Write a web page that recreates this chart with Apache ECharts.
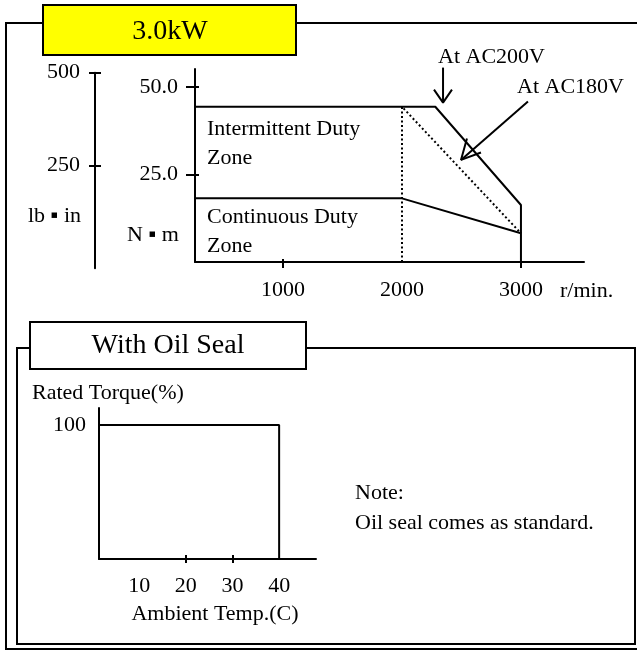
<!DOCTYPE html>
<html>
<head>
<meta charset="utf-8">
<script src="https://cdn.jsdelivr.net/npm/echarts@6/dist/echarts.min.js"></script>
<style>html,body{margin:0;padding:0;background:#fff}#c{width:637px;height:652px}</style>
</head>
<body>
<div id="c"></div>
<script>
// ---- tick labels ----
const rpmLabels = [1000, 2000, 3000];
const rpmTickMarks = [1000, 3000];
const nmLabels = [25, 50];
const lbLabels = [250, 500];
const tempLabels = [10, 20, 30, 40];
const tempTickMarks = [20, 30];
const pctLabels = [100];

// ---- torque-speed curves (r/min, N·m) ----
const intermittentRpm = [0, 2280, 3000, 3000];
const intermittentNm = [44.4, 44.4, 16.3, 0];
const continuousRpm = [0, 2000, 3000];
const continuousNm = [18.2, 18.2, 8.2];
const ac180Rpm = [2000, 2000, 3000];
const ac180Nm = [0, 44.4, 8.2];

// ---- annotation arrows (r/min, N·m) ----
const arrow200Rpm = [2345, 2345];
const arrow200Nm = [55.6, 45.6];
const arrow200HeadRpm = [2269, 2345, 2420];
const arrow200HeadNm = [49.3, 45.6, 49.3];
const arrow180Rpm = [3059, 2496];
const arrow180Nm = [45.9, 29.2];
const arrow180HeadRpm = [2546, 2496, 2664];
const arrow180HeadNm = [35.3, 29.2, 31.3];

// ---- derating (°C, %) ----
const deratingTemp = [0, 40, 40];
const deratingPct = [100, 100, 0];

const zip = (a, b) => a.map((v, i) => [v, b[i]]);
const FONT = 'Liberation Serif';
const txt = { color: '#000', fontFamily: FONT, fontSize: 22 };

function line(xi, yi, data, extra) {
  return Object.assign({
    type: 'line', xAxisIndex: xi, yAxisIndex: yi, data: data,
    symbol: 'none', showSymbol: false, silent: true, animation: false,
    lineStyle: { color: '#000', width: 2 }
  }, extra || {});
}
const hid = { show: false };
const ax = { lineStyle: { color: '#000', width: 2 }, onZero: false };
const plain = v => String(Math.round(v));

const chart = echarts.init(document.getElementById('c'), null, { renderer: 'canvas' });
const option = {
  backgroundColor: '#fff',
  animation: false,
  grid: [
    { left: 195, top: 69, width: 389, height: 193 },
    { left: 95, top: 72.7, width: 10, height: 195.6 },
    { left: 99, top: 408, width: 217, height: 151 }
  ],
  xAxis: [
    { gridIndex: 0, type: 'value', min: 260, max: 3530, position: 'bottom',
      axisLine: ax, splitLine: hid,
      axisTick: { show: true, length: 6, customValues: rpmTickMarks, lineStyle: { color: '#000', width: 2 } },
      axisLabel: Object.assign({ customValues: rpmLabels, margin: 17, formatter: plain }, txt) },
    { gridIndex: 0, type: 'value', min: 260, max: 3530, position: 'bottom',
      axisLine: hid, splitLine: hid, axisLabel: hid,
      axisTick: { show: true, inside: true, length: 3, customValues: [rpmTickMarks[0]], lineStyle: { color: '#000', width: 2 } } },
    { gridIndex: 1, type: 'value', min: 0, max: 1, show: false },
    { gridIndex: 2, type: 'value', min: 1.4, max: 47.9, position: 'bottom',
      axisLine: ax, splitLine: hid,
      axisTick: { show: true, length: 4, customValues: tempTickMarks, lineStyle: { color: '#000', width: 2 } },
      axisLabel: Object.assign({ customValues: tempLabels, margin: 16, formatter: plain }, txt) },
    { gridIndex: 2, type: 'value', min: 1.4, max: 47.9, position: 'bottom',
      axisLine: hid, splitLine: hid, axisLabel: hid,
      axisTick: { show: true, inside: true, length: 4, customValues: tempTickMarks, lineStyle: { color: '#000', width: 2 } } }
  ],
  yAxis: [
    { gridIndex: 0, type: 'value', min: 0, max: 55.2, position: 'left',
      axisLine: ax, splitLine: hid,
      axisTick: { show: true, length: 9, customValues: nmLabels, lineStyle: { color: '#000', width: 2 } },
      axisLabel: Object.assign({ customValues: nmLabels, margin: 17, formatter: v => Number(v).toFixed(1) }, txt) },
    { gridIndex: 0, type: 'value', min: 0, max: 55.2, position: 'left',
      axisLine: hid, splitLine: hid, axisLabel: hid,
      axisTick: { show: true, inside: true, length: 4, customValues: nmLabels, lineStyle: { color: '#000', width: 2 } } },
    { gridIndex: 1, type: 'value', min: -26, max: 500, position: 'left',
      axisLine: ax, splitLine: hid,
      axisTick: { show: true, length: 6, customValues: lbLabels, lineStyle: { color: '#000', width: 2 } },
      axisLabel: Object.assign({ customValues: lbLabels, margin: 15, formatter: plain }, txt) },
    { gridIndex: 1, type: 'value', min: -26, max: 500, position: 'left',
      axisLine: hid, splitLine: hid, axisLabel: hid,
      axisTick: { show: true, inside: true, length: 6, customValues: lbLabels, lineStyle: { color: '#000', width: 2 } } },
    { gridIndex: 2, type: 'value', min: 0, max: 112.7, position: 'left',
      axisLine: ax, splitLine: hid, axisTick: hid,
      axisLabel: Object.assign({ customValues: pctLabels, margin: 13, formatter: plain }, txt) }
  ],
  series: [
    line(0, 0, zip(intermittentRpm, intermittentNm)),
    line(0, 0, zip(continuousRpm, continuousNm)),
    line(0, 0, zip(ac180Rpm, ac180Nm), { lineStyle: { color: '#000', width: 2, type: [2, 2.5] } }),
    line(0, 0, zip(arrow200Rpm, arrow200Nm), { clip: false }),
    line(0, 0, zip(arrow200HeadRpm, arrow200HeadNm), { clip: false }),
    line(0, 0, zip(arrow180Rpm, arrow180Nm), { clip: false }),
    line(0, 0, zip(arrow180HeadRpm, arrow180HeadNm), { clip: false }),
    line(3, 4, zip(deratingTemp, deratingPct))
  ],
  graphic: [
    { type: 'rect', z: 0, shape: { x: 6, y: 23, width: 640, height: 626 }, style: { fill: 'none', stroke: '#000', lineWidth: 2 } },
    { type: 'rect', z: 1, shape: { x: 43, y: 5, width: 253, height: 50 }, style: { fill: '#FFFF00', stroke: '#000', lineWidth: 2 } },
    { type: 'text', z: 2, x: 170, y: 32, style: { text: '3.0kW', fill: '#000', font: '28px "Liberation Serif"', textAlign: 'center', textVerticalAlign: 'middle' } },
    { type: 'rect', z: 0, shape: { x: 17, y: 348, width: 618, height: 296 }, style: { fill: 'none', stroke: '#000', lineWidth: 2 } },
    { type: 'rect', z: 1, shape: { x: 30, y: 322, width: 276, height: 47 }, style: { fill: '#fff', stroke: '#000', lineWidth: 2 } },
    { type: 'text', z: 2, x: 168, y: 346, style: { text: 'With Oil Seal', fill: '#000', font: '28px "Liberation Serif"', textAlign: 'center', textVerticalAlign: 'middle' } },
    { type: 'text', z: 2, x: 207, y: 129, style: { text: 'Intermittent Duty', fill: '#000', font: '22px "Liberation Serif"', textVerticalAlign: 'middle' } },
    { type: 'text', z: 2, x: 207, y: 158, style: { text: 'Zone', fill: '#000', font: '22px "Liberation Serif"', textVerticalAlign: 'middle' } },
    { type: 'text', z: 2, x: 207, y: 217, style: { text: 'Continuous Duty', fill: '#000', font: '22px "Liberation Serif"', textVerticalAlign: 'middle' } },
    { type: 'text', z: 2, x: 207, y: 246, style: { text: 'Zone', fill: '#000', font: '22px "Liberation Serif"', textVerticalAlign: 'middle' } },
    { type: 'text', z: 2, x: 28, y: 216, style: { text: 'lb ▪ in', fill: '#000', font: '22px "Liberation Serif"', textVerticalAlign: 'middle' } },
    { type: 'text', z: 2, x: 127, y: 235, style: { text: 'N ▪ m', fill: '#000', font: '22px "Liberation Serif"', textVerticalAlign: 'middle' } },
    { type: 'text', z: 2, x: 560, y: 291, style: { text: 'r/min.', fill: '#000', font: '22px "Liberation Serif"', textVerticalAlign: 'middle' } },
    { type: 'text', z: 2, x: 438, y: 57, style: { text: 'At AC200V', fill: '#000', font: '22px "Liberation Serif"', textVerticalAlign: 'middle' } },
    { type: 'text', z: 2, x: 517, y: 87, style: { text: 'At AC180V', fill: '#000', font: '22px "Liberation Serif"', textVerticalAlign: 'middle' } },
    { type: 'text', z: 2, x: 32, y: 393, style: { text: 'Rated Torque(%)', fill: '#000', font: '22px "Liberation Serif"', textVerticalAlign: 'middle' } },
    { type: 'text', z: 2, x: 215, y: 614, style: { text: 'Ambient Temp.(C)', fill: '#000', font: '22px "Liberation Serif"', textAlign: 'center', textVerticalAlign: 'middle' } },
    { type: 'text', z: 2, x: 355, y: 493, style: { text: 'Note:', fill: '#000', font: '22px "Liberation Serif"', textVerticalAlign: 'middle' } },
    { type: 'text', z: 2, x: 355, y: 523, style: { text: 'Oil seal comes as standard.', fill: '#000', font: '22px "Liberation Serif"', textVerticalAlign: 'middle' } }
  ]
};
chart.setOption(option);
</script>
</body>
</html>
